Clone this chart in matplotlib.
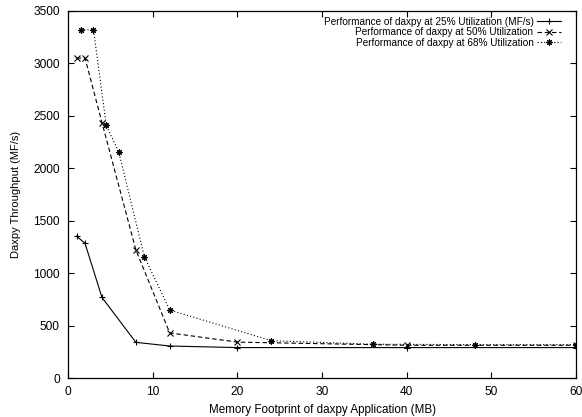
import matplotlib
matplotlib.use("Agg")
import matplotlib.pyplot as plt

# memory footprint (MB) and throughput (MF/s)
x_25 = [1, 2, 4, 8, 12, 20, 40, 60]
y_25 = [1352, 1284, 768, 340, 305, 290, 290, 290]

x_50 = [1, 2, 4, 8, 12, 20, 40, 60]
y_50 = [3050, 3050, 2435, 1222, 430, 342, 312, 312]

x_68 = [1.5, 3, 4.5, 6, 9, 12, 24, 36, 48, 60]
y_68 = [3320, 3320, 2410, 2150, 1158, 648, 356, 322, 318, 318]

labels = [
    "Performance of daxpy at 25% Utilization (MF/s)",
    "Performance of daxpy at 50% Utilization",
    "Performance of daxpy at 68% Utilization",
]

plt.rcParams["font.family"] = ["Liberation Sans", "DejaVu Sans"]
plt.rcParams["font.size"] = 8

fig = plt.figure(figsize=(5.82, 4.17), dpi=100)
ax = fig.add_axes([0.117, 0.0935, 0.873, 0.8805])

ax.plot(x_25, y_25, color="black", lw=0.8, ls="-", marker="+", ms=5, mew=0.8,
        label=labels[0])
ax.plot(x_50, y_50, color="black", lw=0.8, ls=(0, (4, 2.5)), marker="x", ms=4,
        mew=0.8, label=labels[1])
ax.plot(x_68, y_68, color="black", lw=0.8, ls=(0, (1, 2)), marker=(8, 2, 0),
        ms=4.5, mew=0.8, label=labels[2])

ax.set_xlim(0, 60)
ax.set_ylim(0, 3500)
ax.set_xticks(range(0, 61, 10))
ax.set_yticks(range(0, 3501, 500))
ax.tick_params(direction="in", top=True, right=True, length=4, width=0.8,
               labelsize=8.6, pad=6)
for s in ax.spines.values():
    s.set_linewidth(0.9)

ax.set_xlabel("Memory Footprint of daxpy Application (MB)", fontsize=8.4, labelpad=4)
ax.set_ylabel("Daxpy Throughput (MF/s)", fontsize=8, labelpad=9)

leg = ax.legend(loc="upper right", bbox_to_anchor=(0.975, 0.99), frameon=False,
                markerfirst=False, handlelength=2.4, handletextpad=0.4,
                labelspacing=0.05, borderaxespad=0.0, borderpad=0.2, fontsize=7.2)
for t in leg.get_texts():
    t.set_ha("right")
leg._legend_box.align = "right"

fig.savefig("out.png", dpi=100)
